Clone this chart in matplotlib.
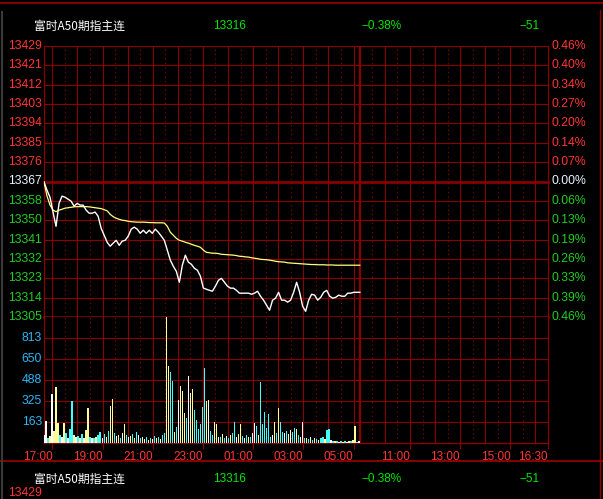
import numpy as np
import matplotlib
matplotlib.use('Agg')
import matplotlib.pyplot as plt
from matplotlib.lines import Line2D

plt.rcParams['font.family'] = ['Liberation Sans', 'Noto Sans CJK SC', 'DejaVu Sans']

# ---- header ----
name = '富时A50期指主连'
last_price = '13316'
change_pct = '−0.38%'
change = '−51'

# ---- price axis ----
prev_close = 13367
price_top = 13429
price_bottom = 13305
price_labels = ['13429', '13421', '13412', '13403', '13394', '13385', '13376', '13367',
                '13358', '13350', '13341', '13332', '13323', '13314', '13305']
pct_labels = ['0.46%', '0.40%', '0.34%', '0.27%', '0.20%', '0.14%', '0.07%', '0.00%',
              '0.06%', '0.13%', '0.19%', '0.26%', '0.33%', '0.39%', '0.46%']

# ---- volume axis ----
vol_levels = [163, 325, 488, 650, 813]
vol_top = 976

# ---- time axis (minutes of trading: 16:40-05:15 then 09:00-16:30) ----
night_minutes = 755
day_minutes = 450
time_ticks = [20, 140, 260, 380, 500, 620, 740, 875, 995, 1115, 1205]
time_labels = ['17:00', '19:00', '21:00', '23:00', '01:00', '03:00', '05:00',
               '11:00', '13:00', '15:00', '16:30']

# ---- series (night session) ----
price = [13366.8, 13363.0, 13359.8, 13353.0, 13346.5, 13357.0, 13360.3, 13359.8, 13358.9, 13358.0,
         13355.7, 13357.0, 13356.2, 13356.2, 13353.9, 13352.5, 13352.5, 13353.0, 13351.1, 13345.6,
         13342.4, 13339.2, 13337.4, 13338.8, 13340.1, 13337.8, 13339.7, 13340.1, 13342.0, 13345.2,
         13346.1, 13345.2, 13343.3, 13344.7, 13343.3, 13344.7, 13343.3, 13345.2, 13343.8, 13342.0,
         13340.1, 13335.6, 13331.0, 13328.2, 13325.9, 13320.9, 13328.7, 13333.3, 13330.1, 13329.1,
         13327.3, 13326.4, 13323.7, 13318.2, 13317.7, 13317.2, 13316.8, 13319.1, 13321.8, 13322.7,
         13320.9, 13319.1, 13318.2, 13318.2, 13317.2, 13315.9, 13315.9, 13315.9, 13315.9, 13315.4,
         13315.9, 13316.8, 13314.5, 13312.7, 13310.4, 13308.1, 13312.7, 13313.6, 13316.3, 13312.7,
         13312.7, 13311.8, 13312.7, 13316.3, 13320.9, 13316.3, 13309.9, 13307.6, 13312.7, 13315.4,
         13315.0, 13312.7, 13314.0, 13316.3, 13317.2, 13314.5, 13313.6, 13314.0, 13315.0, 13314.5,
         13314.5, 13315.9, 13315.9, 13316.3, 13316.3, 13316.3]

avg_price = [13366.8, 13360.3, 13356.2, 13353.9, 13353.2, 13353.9, 13354.3, 13354.8, 13355.0, 13355.2,
             13355.4, 13355.5, 13355.5, 13355.5, 13355.5, 13355.4, 13355.2, 13355.0, 13354.8, 13354.6,
             13354.1, 13353.6, 13352.0, 13350.9, 13350.2, 13349.7, 13349.3, 13349.1, 13348.8, 13348.6,
             13348.5, 13348.4, 13348.4, 13348.4, 13348.3, 13348.2, 13348.2, 13348.1, 13348.1, 13348.1,
             13348.0, 13346.5, 13343.8, 13342.4, 13341.0, 13340.1, 13339.7, 13339.2, 13338.8, 13338.3,
             13337.8, 13337.4, 13336.9, 13335.6, 13334.6, 13334.4, 13334.2, 13334.2, 13334.0, 13333.7,
             13333.6, 13333.5, 13333.4, 13333.3, 13333.1, 13332.8, 13332.7, 13332.5, 13332.4, 13332.1,
             13331.9, 13331.7, 13331.4, 13331.3, 13331.2, 13331.0, 13330.8, 13330.5, 13330.3, 13330.2,
             13330.1, 13329.8, 13329.7, 13329.6, 13329.5, 13329.4, 13329.3, 13329.2, 13329.1, 13329.0,
             13329.0, 13328.9, 13328.9, 13328.9, 13328.8, 13328.8, 13328.8, 13328.7, 13328.7, 13328.7,
             13328.7, 13328.7, 13328.7, 13328.7, 13328.7, 13328.7]

volume = [60, 173, 40, 55, 379, 90, 436, 155, 60, 45, 155,
          77, 40, 110, 325, 60, 45, 55, 35, 70, 40, 100, 269, 50, 40, 35, 45, 60, 85,
          40, 70, 50, 90, 290, 341, 80, 55, 60, 40, 75, 147, 60, 45, 55, 70, 40, 88, 60, 35,
          50, 30, 45, 25, 40, 30, 55, 35, 45, 30, 60, 80,
          990, 596, 550, 480, 88, 126, 333, 441, 403, 232, 194, 519, 390, 418, 256, 178,
          110, 150, 281, 578, 328, 333, 90, 60, 162, 146,
          50, 45, 70, 40, 55, 35, 60, 80, 162, 50, 70, 146, 55, 40, 65, 50, 45, 80, 155, 130,
          60, 472, 150, 243, 120, 222, 45, 60, 162, 80, 269, 160, 85, 75, 90, 70, 100, 85, 120, 110,
          60, 45, 162, 40, 35, 30, 45, 25, 40, 30, 20, 35, 45, 30, 100, 110, 25, 15, 12, 15,
          10, 12, 10, 15, 10, 12, 15, 20, 132, 10, 12]
# w = flat/white, c = down/cyan, y = up/yellow
vol_kind = ('wwcywyyycwy' 'cwccywcycwyycwcycc' 'wcycyycwycwycwycycwcywcycwcycwcc'
            'yyccycwyyycwyyccccccywccyy'
            'wcycwcyccw' 'yycwcycwwc' 'yccccccwyc' 'yccwcywccy' 'cwwcycwcyc' 'wccyccwcyc' 'wcycwycyyc' 'w')

price_t = np.linspace(0, night_minutes, len(price))
vol_t = np.linspace(0, night_minutes - 2, len(volume))

# ---- style ----
grid_red = '#8c0000'
txt_red = '#ff3434'
txt_green = '#22cc22'
txt_white = '#e8f4ff'
txt_blue = '#30b4f0'
kind_color = {'w': '#ffffff', 'c': '#40ffff', 'y': '#ffff99'}

W, H = 603, 499
fig = plt.figure(figsize=(W / 100, H / 100), dpi=100, facecolor='black')


def box(x0, y0, x1, y1):
    return [x0 / W, 1 - y1 / H, (x1 - x0) / W, (y1 - y0) / H]


ax_p = fig.add_axes(box(44, 46, 548, 317))
ax_v = fig.add_axes(box(44, 317, 548, 443))
total = night_minutes + day_minutes

hours = list(range(20, night_minutes, 60)) + list(range(night_minutes + 60, total, 60))
halves = list(range(50, night_minutes - 30, 60)) + list(range(night_minutes + 30, total, 60))

for ax in (ax_p, ax_v):
    ax.set_facecolor('black')
    ax.set_xlim(0, total)
    for s in ax.spines.values():
        s.set_visible(False)
    ax.set_yticks([])
    for t in hours:
        ax.axvline(t, color=grid_red, lw=0.8, zorder=1)
    for t in halves:
        ax.axvline(t, color=grid_red, lw=0.8, ls=(0, (1, 3)), zorder=1)
    ax.axvline(night_minutes, color=grid_red, lw=1.6, zorder=1)
    ax.axvline(0, color=grid_red, lw=0.9, zorder=1, clip_on=False)
    ax.axvline(total, color=grid_red, lw=0.9, zorder=1, clip_on=False)

# price panel
levels = np.linspace(price_top, price_bottom, len(price_labels))
ax_p.set_ylim(price_bottom, price_top)
ax_p.set_xticks([])
for lvl, lab, pct in zip(levels, price_labels, pct_labels):
    thick = abs(lvl - prev_close) < 0.5 or abs(lvl - price_bottom) < 0.5
    ax_p.axhline(lvl, color=grid_red, lw=1.9 if thick else 0.8, zorder=1, clip_on=False)
    if lvl > prev_close + 0.5:
        col = txt_red
    elif lvl < prev_close - 0.5:
        col = txt_green
    else:
        col = txt_white
    ax_p.text(-0.004, lvl, lab, transform=ax_p.get_yaxis_transform(), ha='right', va='center',
              color=col, fontsize=8.8)
    ax_p.text(1.006, lvl, pct, transform=ax_p.get_yaxis_transform(), ha='left', va='center',
              color=col, fontsize=8.8)

ax_p.plot(price_t, price, color='white', lw=1.0, zorder=3)
ax_p.plot(price_t, avg_price, color='#ffff80', lw=0.9, zorder=2)

# volume panel
ax_v.set_ylim(0, vol_top)
for lvl in vol_levels:
    ax_v.axhline(lvl, color=grid_red, lw=0.8, zorder=1)
    ax_v.text(-0.004, lvl, str(lvl), transform=ax_v.get_yaxis_transform(), ha='right', va='center',
              color=txt_blue, fontsize=8.8)
ax_v.axhline(0, color=grid_red, lw=1.0, zorder=1, clip_on=False)
ax_v.bar(vol_t, volume, width=3.2, color=[kind_color[k] for k in vol_kind], linewidth=0, zorder=2)

ax_v.set_xticks(time_ticks)
ax_v.set_xticklabels(time_labels)
ax_v.tick_params(axis='x', colors=grid_red, length=4, width=0.8, pad=2, labelcolor=txt_red,
                 labelsize=8.5)
for lbl in ax_v.get_xticklabels():
    lbl.set_ha('right')

# header rows
for y in (26, 479):
    yy = 1 - y / H
    fig.text(34 / W, yy, name, color='white', fontsize=8.5, va='center',
             family=['Noto Sans CJK SC', 'DejaVu Sans'])
    fig.text(213 / W, yy, last_price, color='#00e600', fontsize=8.5, va='center')
    fig.text(361 / W, yy, change_pct, color='#00e600', fontsize=8.5, va='center')
    fig.text(519 / W, yy, change, color='#00e600', fontsize=8.5, va='center')

# next chart's first label near the bottom edge
fig.text(42 / W, 1 - 493 / H, price_labels[0], color=txt_red, fontsize=8.8, ha='right', va='center')

# frame lines
fig.add_artist(Line2D([0, 1], [1 - 3 / H, 1 - 3 / H], transform=fig.transFigure, color='#a00000', lw=1.2))
fig.add_artist(Line2D([0, 1], [1 - 461 / H, 1 - 461 / H], transform=fig.transFigure, color='#a00000', lw=1.2))
fig.add_artist(Line2D([2 / W, 2 / W], [0, 1 - 12 / H], transform=fig.transFigure, color='#3a3a3a', lw=1.5))
fig.add_artist(Line2D([600 / W, 600 / W], [0, 1 - 10 / H], transform=fig.transFigure, color='#8c0000', lw=1.0))

fig.savefig('out.png', dpi=100, facecolor='black')
